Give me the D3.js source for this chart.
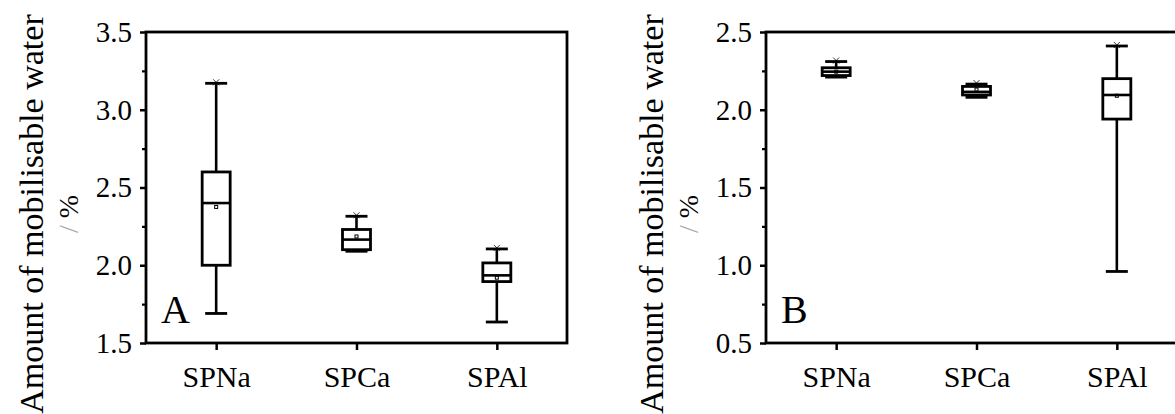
<!DOCTYPE html>
<html>
<head>
<meta charset="utf-8">
<script src="https://cdn.jsdelivr.net/npm/d3@7"></script>
<style>
  html, body { margin: 0; padding: 0; background: #fff; }
  svg { display: block; font-family: "Liberation Serif", "Times New Roman", serif; }
</style>
</head>
<body>
<div id="chart"></div>
<script>
// categories shared by both panels
const categories = ["SPNa", "SPCa", "SPAl"];

// panel A, box statistics per category
const aWhiskerLow = [1.69, 2.09, 1.635];
const aQ1 = [2.00, 2.10, 1.895];
const aMedian = [2.40, 2.165, 1.935];
const aQ3 = [2.60, 2.23, 2.015];
const aWhiskerHigh = [3.17, 2.315, 2.105];
const aMean = [2.375, 2.185, 1.92];
const aTicks = [1.5, 2.0, 2.5, 3.0, 3.5];
const aMinorTicks = [1.75, 2.25, 2.75, 3.25];

// panel B
const bWhiskerLow = [2.21, 2.08, 0.96];
const bQ1 = [2.22, 2.095, 1.94];
const bMedian = [2.245, 2.115, 2.095];
const bQ3 = [2.27, 2.15, 2.20];
const bWhiskerHigh = [2.31, 2.165, 2.41];
const bMean = [2.245, 2.13, 2.09];
const bTicks = [0.5, 1.0, 1.5, 2.0, 2.5];
const bMinorTicks = [0.75, 1.25, 1.75, 2.25];

const yTitle = "Amount of mobilisable water";

const width = 1175, height = 414;
const serif = "'Liberation Serif', 'Times New Roman', serif";

const svg = d3.select("#chart")
    .append("svg")
    .attr("width", width)
    .attr("height", height);

function drawPanel(cfg) {
    const left = cfg.left, right = cfg.left + 421, top = 32, bottom = 343;

    const x = d3.scalePoint()
        .domain(categories)
        .range([left, right])
        .padding(0.5);
    const y = d3.scaleLinear()
        .domain([cfg.ticks[0], cfg.ticks[cfg.ticks.length - 1]])
        .range([bottom, top]);

    const g = svg.append("g");

    // minor ticks on left axis
    g.append("g")
        .attr("transform", "translate(" + left + ",0)")
        .call(d3.axisLeft(y).tickValues(cfg.minor).tickSize(4).tickFormat(""))
        .call(s => s.select(".domain").remove())
        .selectAll("line").attr("stroke-width", 2.2);

    // major ticks + labels
    const gy = g.append("g")
        .attr("transform", "translate(" + left + ",0)")
        .call(d3.axisLeft(y).tickValues(cfg.ticks).tickSize(6).tickPadding(8).tickFormat(d3.format(".1f")));
    gy.attr("font-family", serif);
    gy.select(".domain").remove();
    gy.selectAll("line").attr("stroke-width", 2.5);
    gy.selectAll("text")
        .attr("font-size", "29px")
        .attr("fill", "#000");

    const gx = g.append("g")
        .attr("transform", "translate(0," + bottom + ")")
        .call(d3.axisBottom(x).tickSize(7).tickPadding(8));
    gx.attr("font-family", serif);
    gx.select(".domain").remove();
    gx.selectAll("line").attr("stroke-width", 2.5);
    gx.selectAll("text")
        .attr("font-size", "30px")
        .attr("fill", "#000")
        .attr("dy", "0.95em");

    // frame
    g.append("rect")
        .attr("x", left)
        .attr("y", top)
        .attr("width", right - left)
        .attr("height", bottom - top)
        .attr("fill", "none")
        .attr("stroke", "#000")
        .attr("stroke-width", 2.8);

    // boxes
    const boxW = 28, capW = 22;
    const rows = categories.map((c, i) => ({
        c: c, lo: cfg.lo[i], q1: cfg.q1[i], med: cfg.med[i],
        q3: cfg.q3[i], hi: cfg.hi[i], mean: cfg.mean[i]
    }));
    const box = g.selectAll(".box").data(rows).enter()
        .append("g")
        .attr("class", "box")
        .attr("stroke", "#000")
        .attr("fill", "none");

    box.append("line")
        .attr("x1", d => x(d.c)).attr("x2", d => x(d.c))
        .attr("y1", d => y(d.hi)).attr("y2", d => y(d.q3))
        .attr("stroke-width", 2.6);
    box.append("line")
        .attr("x1", d => x(d.c)).attr("x2", d => x(d.c))
        .attr("y1", d => y(d.q1)).attr("y2", d => y(d.lo))
        .attr("stroke-width", 2.6);
    box.append("line")
        .attr("x1", d => x(d.c) - capW / 2).attr("x2", d => x(d.c) + capW / 2)
        .attr("y1", d => y(d.hi)).attr("y2", d => y(d.hi))
        .attr("stroke-width", 2.8);
    box.append("line")
        .attr("x1", d => x(d.c) - capW / 2).attr("x2", d => x(d.c) + capW / 2)
        .attr("y1", d => y(d.lo)).attr("y2", d => y(d.lo))
        .attr("stroke-width", 2.8);
    box.append("rect")
        .attr("x", d => x(d.c) - boxW / 2)
        .attr("y", d => y(d.q3))
        .attr("width", boxW)
        .attr("height", d => y(d.q1) - y(d.q3))
        .attr("fill", "#fff")
        .attr("stroke-width", 2.8);
    box.append("line")
        .attr("x1", d => x(d.c) - boxW / 2).attr("x2", d => x(d.c) + boxW / 2)
        .attr("y1", d => y(d.med)).attr("y2", d => y(d.med))
        .attr("stroke-width", 2.6);
    box.append("rect")
        .attr("x", d => x(d.c) - 1.5)
        .attr("y", d => y(d.mean) - 1.5)
        .attr("width", 3)
        .attr("height", 3)
        .attr("stroke-width", 1);
    // small crosses at max
    box.append("path")
        .attr("d", d => {
            const cx = x(d.c), cy = y(d.hi) - 1;
            return "M" + (cx - 3) + "," + (cy - 3) + "L" + (cx + 3) + "," + (cy + 3) +
                "M" + (cx + 3) + "," + (cy - 3) + "L" + (cx - 3) + "," + (cy + 3);
        })
        .attr("stroke-width", 0.8);

    // panel letter
    g.append("text")
        .attr("x", left + 15)
        .attr("y", 323)
        .attr("font-size", "40px")
        .text(cfg.letter);

    // y title
    const cy = 214;
    g.append("text")
        .attr("transform", "translate(" + (left - 103) + "," + cy + ") rotate(-90)")
        .attr("text-anchor", "middle")
        .attr("font-size", "34px")
        .text(yTitle);
    const unit = g.append("text")
        .attr("transform", "translate(" + (left - 68) + "," + cy + ") rotate(-90)")
        .attr("text-anchor", "middle")
        .attr("font-size", "28px");
    unit.append("tspan").attr("fill", "#aaa").text("/ ");
    unit.append("tspan").attr("fill", "#000").text("%");
}

drawPanel({
    left: 146, letter: "A", ticks: aTicks, minor: aMinorTicks,
    lo: aWhiskerLow, q1: aQ1, med: aMedian, q3: aQ3, hi: aWhiskerHigh, mean: aMean
});
drawPanel({
    left: 766, letter: "B", ticks: bTicks, minor: bMinorTicks,
    lo: bWhiskerLow, q1: bQ1, med: bMedian, q3: bQ3, hi: bWhiskerHigh, mean: bMean
});
</script>
</body>
</html>
